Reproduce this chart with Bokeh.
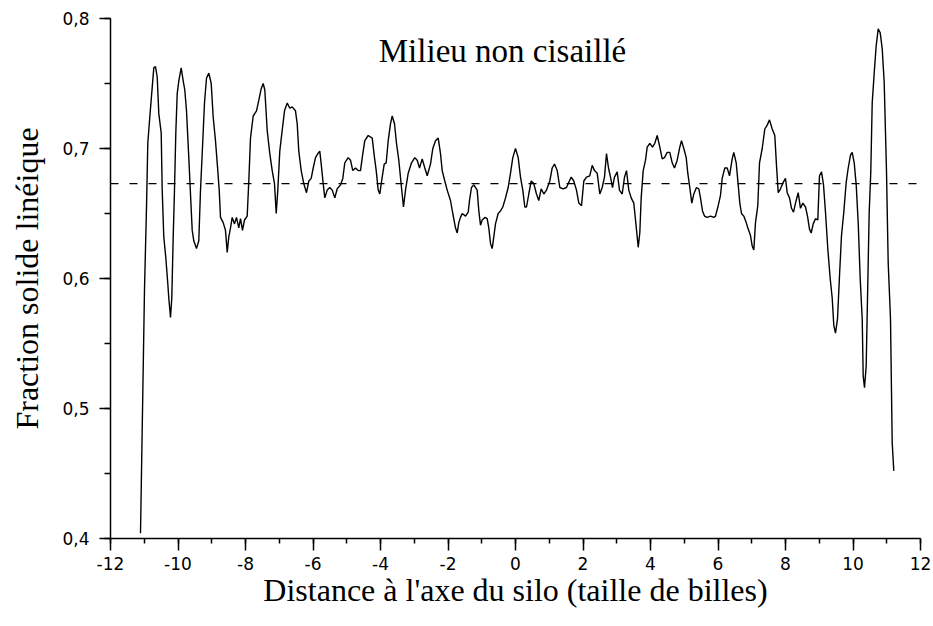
from bokeh.plotting import figure
from bokeh.models import Span, Label, SingleIntervalTicker, CustomJSTickFormatter, Range1d
from bokeh.embed import file_html
from bokeh.resources import INLINE

# Distance to silo axis (bead diameters) and linear solid fraction
distance = [
    -11.111, -10.993, -10.933, -10.895, -10.836, -10.764, -10.717, -10.667, -10.616, -10.569,
    -10.498, -10.468, -10.421, -10.361, -10.302, -10.273, -10.222, -10.184, -10.142, -10.104,
    -10.065, -10.024, -9.976, -9.905, -9.846, -9.799, -9.748, -9.680, -9.630, -9.579,
    -9.532, -9.452, -9.384, -9.333, -9.283, -9.215, -9.156, -9.087, -9.016, -8.957,
    -8.889, -8.821, -8.779, -8.741, -8.661, -8.593, -8.542, -8.495, -8.444, -8.394,
    -8.326, -8.267, -8.199, -8.148, -8.089, -8.030, -7.950, -7.902, -7.852, -7.772,
    -7.674, -7.606, -7.535, -7.476, -7.428, -7.357, -7.280, -7.209, -7.141, -7.090,
    -7.043, -6.984, -6.913, -6.844, -6.764, -6.687, -6.616, -6.519, -6.468, -6.421,
    -6.350, -6.273, -6.193, -6.124, -6.053, -5.994, -5.926, -5.858, -5.799, -5.757,
    -5.698, -5.650, -5.579, -5.502, -5.431, -5.354, -5.283, -5.185, -5.117, -5.058,
    -4.957, -4.889, -4.821, -4.741, -4.661, -4.593, -4.524, -4.465, -4.364, -4.246,
    -4.178, -4.127, -4.068, -4.021, -3.950, -3.890, -3.831, -3.772, -3.704, -3.653,
    -3.585, -3.526, -3.458, -3.378, -3.319, -3.259, -3.179, -3.081, -2.984, -2.913,
    -2.844, -2.764, -2.687, -2.616, -2.519, -2.450, -2.370, -2.290, -2.222, -2.172,
    -2.095, -2.024, -1.926, -1.858, -1.778, -1.727, -1.680, -1.630, -1.579, -1.481,
    -1.401, -1.363, -1.304, -1.236, -1.135, -1.087, -1.037, -0.987, -0.910, -0.839,
    -0.791, -0.741, -0.691, -0.643, -0.593, -0.513, -0.444, -0.376, -0.296, -0.217,
    -0.148, -0.080, 0.000, 0.080, 0.148, 0.216, 0.276, 0.326, 0.394, 0.465,
    0.542, 0.622, 0.690, 0.761, 0.839, 0.919, 1.016, 1.087, 1.156, 1.236,
    1.313, 1.413, 1.511, 1.579, 1.650, 1.727, 1.807, 1.876, 1.956, 2.024,
    2.104, 2.201, 2.273, 2.341, 2.421, 2.498, 2.569, 2.637, 2.696, 2.756,
    2.815, 2.874, 2.933, 3.013, 3.081, 3.161, 3.230, 3.289, 3.357, 3.428,
    3.505, 3.556, 3.606, 3.636, 3.683, 3.724, 3.784, 3.852, 3.902, 3.979,
    4.059, 4.127, 4.199, 4.276, 4.347, 4.415, 4.495, 4.572, 4.643, 4.711,
    4.791, 4.868, 4.919, 4.987, 5.058, 5.105, 5.164, 5.224, 5.283, 5.363,
    5.431, 5.481, 5.541, 5.600, 5.680, 5.778, 5.876, 5.926, 6.006, 6.074,
    6.124, 6.201, 6.273, 6.341, 6.421, 6.468, 6.539, 6.599, 6.646, 6.696,
    6.764, 6.836, 6.895, 6.963, 7.013, 7.061, 7.111, 7.179, 7.230, 7.310,
    7.387, 7.458, 7.526, 7.606, 7.683, 7.733, 7.784, 7.852, 7.932, 8.000,
    8.050, 8.119, 8.178, 8.237, 8.296, 8.376, 8.444, 8.513, 8.593, 8.652,
    8.711, 8.761, 8.821, 8.889, 8.957, 9.007, 9.067, 9.126, 9.185, 9.253,
    9.324, 9.384, 9.431, 9.481, 9.541, 9.600, 9.659, 9.727, 9.799, 9.858,
    9.926, 9.976, 10.036, 10.095, 10.154, 10.213, 10.273, 10.302, 10.341, 10.391,
    10.430, 10.480, 10.527, 10.569, 10.628, 10.687, 10.747, 10.806, 10.865, 10.924,
    10.993, 11.043, 11.111, 11.161, 11.209,
]
solid_fraction = [
    0.404, 0.591, 0.655, 0.704, 0.724, 0.747, 0.762, 0.763, 0.755, 0.727,
    0.712, 0.668, 0.632, 0.616, 0.596, 0.585, 0.570, 0.585, 0.632, 0.668,
    0.712, 0.742, 0.752, 0.762, 0.752, 0.745, 0.729, 0.693, 0.665, 0.637,
    0.629, 0.623, 0.629, 0.668, 0.696, 0.735, 0.754, 0.758, 0.750, 0.724,
    0.706, 0.683, 0.668, 0.647, 0.643, 0.637, 0.620, 0.632, 0.639, 0.647,
    0.642, 0.647, 0.639, 0.646, 0.637, 0.645, 0.648, 0.675, 0.708, 0.725,
    0.729, 0.737, 0.746, 0.750, 0.745, 0.714, 0.696, 0.683, 0.673, 0.650,
    0.668, 0.698, 0.714, 0.729, 0.735, 0.731, 0.732, 0.729, 0.719, 0.698,
    0.683, 0.673, 0.666, 0.675, 0.677, 0.685, 0.693, 0.696, 0.698, 0.688,
    0.673, 0.662, 0.668, 0.670, 0.668, 0.662, 0.669, 0.672, 0.677, 0.689,
    0.693, 0.691, 0.683, 0.685, 0.683, 0.683, 0.696, 0.706, 0.710, 0.708,
    0.693, 0.683, 0.668, 0.665, 0.678, 0.688, 0.689, 0.706, 0.719, 0.725,
    0.719, 0.704, 0.691, 0.670, 0.655, 0.668, 0.681, 0.689, 0.693, 0.691,
    0.685, 0.692, 0.685, 0.679, 0.688, 0.700, 0.706, 0.708, 0.696, 0.683,
    0.675, 0.668, 0.660, 0.650, 0.639, 0.635, 0.643, 0.647, 0.650, 0.648,
    0.651, 0.660, 0.670, 0.672, 0.668, 0.652, 0.641, 0.645, 0.647, 0.646,
    0.639, 0.627, 0.623, 0.632, 0.642, 0.650, 0.652, 0.655, 0.662, 0.670,
    0.681, 0.693, 0.700, 0.693, 0.678, 0.668, 0.655, 0.655, 0.665, 0.675,
    0.673, 0.665, 0.660, 0.669, 0.665, 0.668, 0.675, 0.685, 0.688, 0.683,
    0.670, 0.669, 0.670, 0.674, 0.678, 0.675, 0.668, 0.658, 0.656, 0.675,
    0.678, 0.679, 0.687, 0.683, 0.681, 0.665, 0.670, 0.678, 0.696, 0.685,
    0.678, 0.670, 0.678, 0.682, 0.668, 0.665, 0.678, 0.683, 0.668, 0.662,
    0.658, 0.645, 0.632, 0.624, 0.635, 0.662, 0.683, 0.691, 0.701, 0.704,
    0.701, 0.704, 0.710, 0.701, 0.692, 0.693, 0.697, 0.697, 0.689, 0.685,
    0.691, 0.701, 0.706, 0.700, 0.693, 0.681, 0.670, 0.658, 0.665, 0.670,
    0.669, 0.662, 0.652, 0.648, 0.647, 0.648, 0.647, 0.648, 0.656, 0.664,
    0.677, 0.685, 0.685, 0.679, 0.692, 0.697, 0.689, 0.672, 0.658, 0.650,
    0.648, 0.643, 0.638, 0.633, 0.625, 0.622, 0.643, 0.656, 0.689, 0.700,
    0.715, 0.718, 0.722, 0.715, 0.710, 0.687, 0.666, 0.669, 0.674, 0.677,
    0.666, 0.662, 0.654, 0.651, 0.658, 0.666, 0.654, 0.658, 0.655, 0.648,
    0.638, 0.635, 0.642, 0.646, 0.645, 0.679, 0.682, 0.672, 0.651, 0.623,
    0.600, 0.585, 0.564, 0.558, 0.569, 0.602, 0.633, 0.651, 0.674, 0.685,
    0.695, 0.697, 0.689, 0.672, 0.643, 0.600, 0.569, 0.525, 0.516, 0.533,
    0.585, 0.651, 0.682, 0.735, 0.758, 0.779, 0.792, 0.789, 0.777, 0.751,
    0.682, 0.612, 0.569, 0.474, 0.452,
]
mean_fraction = 0.673

title_text = "Milieu non cisaillé"
x_label = "Distance à l'axe du silo (taille de billes)"
y_label = "Fraction solide linéique"

p = figure(
    frame_width=810, frame_height=520,
    min_border_left=110, min_border_right=12, min_border_top=18, min_border_bottom=78,
    x_range=Range1d(-12, 12), y_range=Range1d(0.4, 0.8),
    output_backend="svg", toolbar_location=None,
    background_fill_color="white", border_fill_color="white",
)
p.outline_line_color = None
p.grid.visible = False

p.line(distance, solid_fraction, line_color="black", line_width=1.4)

p.add_layout(Span(location=mean_fraction, dimension="width", line_color="black",
                  line_width=1.2, line_dash="8 11"))

p.add_layout(Label(x=-0.385, y=0.775, text=title_text, text_align="center",
                   text_baseline="middle", text_font="Liberation Serif",
                   text_font_size="33px", text_color="black"))

p.xaxis.ticker = SingleIntervalTicker(interval=2, num_minor_ticks=2)
p.yaxis.ticker = SingleIntervalTicker(interval=0.1, num_minor_ticks=2)
p.xaxis.formatter = CustomJSTickFormatter(code="return tick.toFixed(0);")
p.yaxis.formatter = CustomJSTickFormatter(code="return tick.toFixed(1).replace('.', ',');")

for ax in (p.xaxis[0], p.yaxis[0]):
    ax.axis_line_color = "black"
    ax.axis_line_width = 1.5
    ax.major_tick_line_color = "black"
    ax.major_tick_line_width = 1.5
    ax.minor_tick_line_color = "black"
    ax.minor_tick_line_width = 1.5
    ax.major_tick_in = 0
    ax.minor_tick_in = 0
    ax.major_label_text_font = "DejaVu Sans"
    ax.major_label_text_font_size = "17px"
    ax.major_label_text_color = "black"
    ax.axis_label_text_font = "Liberation Serif"
    ax.axis_label_text_font_size = "32px"
    ax.axis_label_text_font_style = "normal"
    ax.axis_label_text_color = "black"

p.xaxis.major_tick_out = 12
p.xaxis.minor_tick_out = 5
p.yaxis.major_tick_out = 11
p.yaxis.minor_tick_out = 6
p.xaxis.major_label_standoff = 6
p.yaxis.major_label_standoff = 10
p.xaxis.axis_label = x_label
p.yaxis.axis_label = y_label
p.xaxis.axis_label_standoff = -1
p.yaxis.axis_label_standoff = 14

open("out.html", "w").write(file_html(p, INLINE))
